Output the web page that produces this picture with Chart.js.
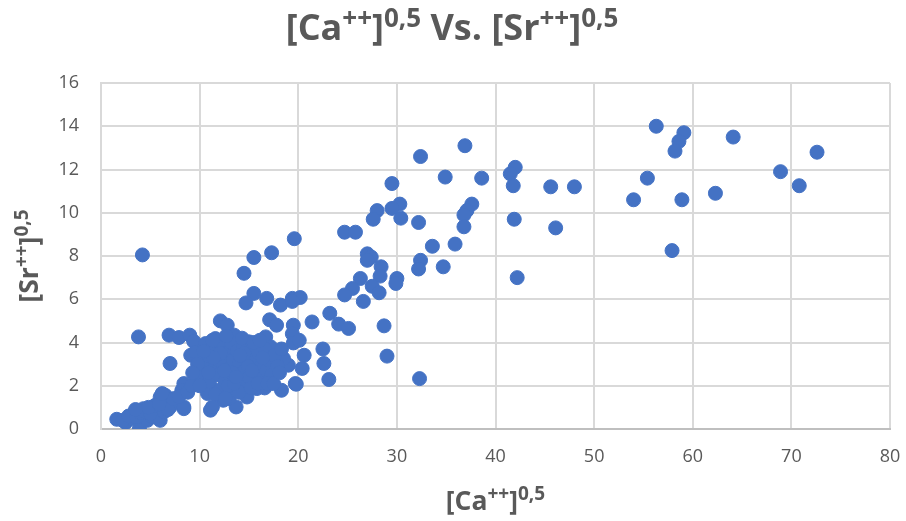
<!DOCTYPE html>
<html>
<head>
<meta charset="utf-8">
<script src="https://cdn.jsdelivr.net/npm/chart.js@4/dist/chart.umd.min.js"></script>
<style>
  html, body { margin: 0; padding: 0; background: #ffffff; }
  #wrap { width: 906px; height: 521px; position: relative; }
</style>
</head>
<body>
<div id="wrap"><canvas id="c" width="906" height="521"></canvas></div>
<script>
// ---- data ----
const caValues = [
  56.3, 59.1, 58.6, 58.2, 64.1, 72.6, 68.9, 70.8, 55.4, 54.0, 58.9, 62.3, 45.6, 48.0, 46.1, 57.9,
  36.9, 32.4, 34.9, 38.6, 42.0, 41.5, 41.8, 41.9, 42.2, 29.5, 30.3, 29.5, 28.0, 27.6, 30.4, 32.2,
  37.6, 37.1, 36.8, 36.8, 35.9, 33.6, 32.4, 32.2, 34.7, 24.7, 25.8, 27.0, 27.4, 27.0, 28.4, 28.3,
  30.0, 29.9, 26.3, 25.5, 24.7, 26.6, 27.5, 28.2, 23.2, 24.1, 25.1, 21.4, 28.7, 29.0, 22.5, 22.6,
  23.1, 32.3, 19.6, 17.3, 15.5, 14.5, 15.5, 14.7, 16.8, 18.2, 19.4, 20.2, 19.4, 4.2, 3.8, 6.9,
  7.9, 9.0, 9.4, 7.0, 12.1, 12.8, 17.1, 17.8, 19.5, 19.4, 19.5, 20.6, 20.4, 19.0, 19.7, 18.3,
  14.8, 13.7, 13.0, 12.4, 11.1, 8.4, 8.2, 9.7, 10.1, 9.1, 9.6, 10.6, 11.6, 13.5, 15.0, 16.7,
  17.2, 18.5, 17.5, 17.2, 15.8, 14.3, 11.8, 10.8, 16.3, 19.8,
  1.6, 2.5, 3.0, 3.3, 3.9, 4.3, 4.7, 5.2, 5.3, 5.7, 6.0, 6.0, 6.2, 6.5, 7.0, 7.0,
  7.7, 8.4, 8.4, 2.2, 2.8, 3.6, 4.0, 4.5, 5.0, 5.5, 6.4, 6.8, 7.3, 4.8, 3.5, 5.9,
  7.9, 8.8, 9.2, 6.2,
  10.2, 10.5, 10.8, 11.0, 11.2, 11.5, 11.8, 12.0, 12.2, 12.4, 12.6, 12.8, 13.0, 13.2, 13.4, 13.6,
  13.8, 14.0, 14.2, 14.4, 14.6, 14.8, 15.0, 15.2, 15.4, 15.6, 15.8, 16.0, 16.2, 16.4, 16.6, 16.8,
  17.0, 17.3, 17.6, 17.9, 11.3, 12.7, 14.3, 15.5, 16.1, 13.1, 14.0, 15.2, 16.6, 9.8, 10.0, 9.3,
  12.9, 13.5, 14.5, 15.9, 16.9, 17.5, 18.1, 18.3, 20.1, 11.6, 10.9, 12.1, 13.3, 14.9, 16.4, 15.3,
  14.1, 12.5, 11.4, 10.4, 11.3, 12.6, 13.7
];
const srValues = [
  14.0, 13.7, 13.3, 12.85, 13.5, 12.8, 11.9, 11.25, 11.6, 10.6, 10.6, 10.9, 11.2, 11.2, 9.3, 8.25,
  13.1, 12.6, 11.65, 11.6, 12.1, 11.8, 11.25, 9.7, 7.0, 11.35, 10.4, 10.2, 10.1, 9.7, 9.75, 9.55,
  10.4, 10.1, 9.9, 9.35, 8.55, 8.45, 7.8, 7.4, 7.5, 9.1, 9.1, 8.1, 7.95, 7.8, 7.5, 7.07,
  6.96, 6.73, 6.96, 6.5, 6.2, 5.9, 6.6, 6.3, 5.35, 4.85, 4.65, 4.95, 4.77, 3.37, 3.7, 3.03,
  2.29, 2.33, 8.8, 8.15, 7.93, 7.2, 6.27, 5.83, 6.04, 5.73, 6.04, 6.08, 5.9, 8.05, 4.26, 4.34,
  4.23, 4.34, 4.05, 3.03, 5.0, 4.8, 5.05, 4.8, 4.8, 4.4, 3.98, 3.41, 2.8, 2.95, 2.1, 1.79,
  1.48, 1.02, 1.41, 1.33, 0.87, 2.1, 1.79, 2.41, 2.72, 3.41, 3.56, 3.95, 4.18, 4.34, 4.03, 4.26,
  3.8, 3.26, 2.8, 2.25, 1.87, 1.94, 1.79, 1.64, 2.02, 2.07,
  0.45, 0.3, 0.48, 0.71, 0.05, 0.94, 0.4, 0.56, 1.02, 0.87, 0.4, 1.48, 1.33, 1.56, 1.02, 1.17,
  1.25, 0.94, 1.02, 0.4, 0.6, 0.55, 0.75, 0.8, 0.7, 1.1, 0.8, 0.9, 1.4, 1.0, 0.9, 1.15,
  1.5, 1.7, 2.0, 1.64,
  2.5, 3.0, 3.4, 2.2, 3.7, 2.8, 3.2, 2.5, 3.9, 3.0, 2.2, 3.5, 2.8, 4.0, 3.2, 2.5,
  3.6, 3.0, 2.2, 3.8, 2.7, 3.3, 2.4, 3.6, 2.9, 3.2, 2.6, 3.5, 2.3, 3.0, 3.7, 2.7,
  3.2, 2.5, 3.4, 2.9, 4.1, 4.3, 4.2, 4.0, 4.1, 1.9, 1.7, 1.9, 1.9, 3.0, 2.0, 2.6,
  2.0, 2.1, 3.5, 2.1, 2.1, 2.1, 2.6, 3.7, 4.1, 1.6, 2.6, 3.5, 2.6, 2.9, 3.3, 2.7,
  3.4, 2.7, 3.3, 3.6, 1.02, 1.41, 2.4
];
const xTickValues = [0, 10, 20, 30, 40, 50, 60, 70, 80];
const yTickValues = [0, 2, 4, 6, 8, 10, 12, 14, 16];
const chartTitleParts = [['[Ca', false], ['++', true], [']', false], ['0,5', true], [' Vs. [Sr', false], ['++', true], [']', false], ['0,5', true]];
const xTitleParts = [['[Ca', false], ['++', true], [']', false], ['0,5', true]];
const yTitleParts = [['[Sr', false], ['++', true], [']', false], ['0,5', true]];

const points = caValues.map((v, i) => ({ x: v, y: srValues[i] }));

const FONT = "'Open Sans', 'DejaVu Sans', sans-serif";
const TEXT_GRAY = '#595959';

function drawRich(ctx, parts, cx, baseY, mainSize, supSize, rotate) {
  ctx.save();
  ctx.fillStyle = TEXT_GRAY;
  ctx.textBaseline = 'alphabetic';
  ctx.textAlign = 'left';
  let total = 0;
  const widths = parts.map(([t, sup]) => {
    ctx.font = 'bold ' + (sup ? supSize : mainSize) + 'px ' + FONT;
    const w = ctx.measureText(t).width;
    total += w;
    return w;
  });
  if (rotate) {
    ctx.translate(cx, baseY);
    ctx.rotate(-Math.PI / 2);
    cx = 0; baseY = 0;
  }
  let x = cx - total / 2;
  parts.forEach(([t, sup], i) => {
    ctx.font = 'bold ' + (sup ? supSize : mainSize) + 'px ' + FONT;
    ctx.fillText(t, x, sup ? baseY - mainSize * 0.36 : baseY);
    x += widths[i];
  });
  ctx.restore();
}

const richTitles = {
  id: 'richTitles',
  afterDraw(chart) {
    const ctx = chart.ctx;
    const a = chart.chartArea;
    drawRich(ctx, chartTitleParts, 452, 40, 36, 26, false);
    drawRich(ctx, xTitleParts, (a.left + a.right) / 2, 510, 26.5, 19, false);
    drawRich(ctx, yTitleParts, 38, (a.top + a.bottom) / 2, 26.5, 19, true);
  }
};

new Chart(document.getElementById('c'), {
  type: 'scatter',
  data: {
    datasets: [{
      label: 'Sr vs Ca',
      data: points,
      backgroundColor: '#4472C4',
      borderColor: '#4472C4',
      borderWidth: 1,
      pointRadius: 7,
      pointHoverRadius: 7
    }]
  },
  options: {
    responsive: false,
    animation: false,
    devicePixelRatio: 1,
    layout: { padding: { left: 0, right: 16, top: 83, bottom: 0 } },
    plugins: {
      legend: { display: false },
      title: { display: false },
      tooltip: { enabled: false }
    },
    scales: {
      x: {
        type: 'linear',
        min: 0, max: 80,
        afterBuildTicks: s => { s.ticks = xTickValues.map(v => ({ value: v })); },
        afterFit: s => { s.height = 92; s.paddingLeft = 0; s.paddingRight = 0; },
        grid: { color: '#D9D9D9', lineWidth: 2, drawTicks: false },
        border: { display: true, color: '#BFBFBF', width: 2 },
        ticks: { color: TEXT_GRAY, font: { family: FONT, size: 18 }, padding: 17 }
      },
      y: {
        type: 'linear',
        min: 0, max: 16,
        afterBuildTicks: s => { s.ticks = yTickValues.map(v => ({ value: v })); },
        afterFit: s => { s.width = 101; s.paddingTop = 0; s.paddingBottom = 0; },
        grid: { color: '#D9D9D9', lineWidth: 2, drawTicks: false },
        border: { display: true, color: '#D9D9D9', width: 2 },
        ticks: { color: TEXT_GRAY, font: { family: FONT, size: 18 }, padding: 22 }
      }
    }
  },
  plugins: [richTitles]
});
</script>
</body>
</html>
